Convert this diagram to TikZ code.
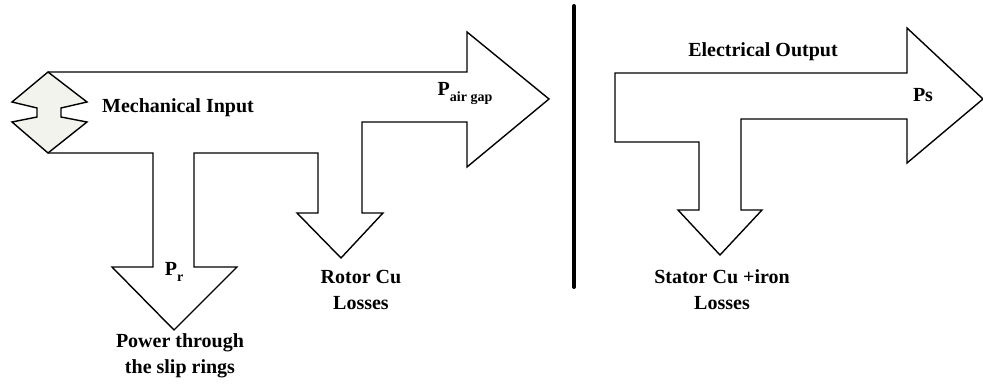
\documentclass[tikz,border=0pt]{standalone}
\usepackage{fontspec}
\setmainfont{Liberation Serif}
\usetikzlibrary{positioning}

\definecolor{plugfill}{RGB}{242,243,237}
\newcommand{\lowtext}[1]{\raisebox{-0.3em}{\fontsize{14}{14}\selectfont #1}}

\tikzset{
  flow/.style={draw, line width=1.4pt, line join=miter},
  lbl/.style={font=\fontsize{20}{26}\selectfont\bfseries, align=center, inner sep=0pt},
}

\begin{document}
\begin{tikzpicture}[x=1pt, y=-1pt]
    \useasboundingbox (0,0) rectangle (983,385);

    % Rotor side: input band, splits to slip rings, rotor losses and air gap
    \draw [flow] (48,72) -- (467,72) -- (467,32) -- (549,99) -- (467,167) -- (467,122)
        -- (362,122) -- (362,213) -- (383,213) -- (341,258) -- (297,213) -- (318,213)
        -- (318,153) -- (194,153) -- (194,267) -- (237,267) -- (174,330) -- (112,267)
        -- (153,267) -- (153,153) -- (48,153);

    % Shaft coupling (input end)
    \draw [flow, fill=plugfill] (48,72) -- (87,102) -- (61,108) -- (61,117) -- (87,122)
        -- (48,153) -- (12,122) -- (37,117) -- (37,108) -- (12,102) -- cycle;

    % Separator
    \draw [line width=4pt, line cap=round] (574,6) -- (574,287);

    % Stator side: electrical output and stator losses
    \draw [flow] (615,73) -- (907,73) -- (907,28) -- (983,99) -- (907,163) -- (907,119)
        -- (741,119) -- (741,210) -- (762,210) -- (720,255) -- (678,210) -- (699,210)
        -- (699,142) -- (615,142) -- cycle;

    % Labels
    \node [lbl] (mech) at (178,108) {Mechanical Input};
    \node [lbl] (pgap) at (465,93) {P\lowtext{air gap}};
    \node [lbl] (pr) at (174,272) {P\lowtext{r}};
    \node [lbl] (slip) at (180,356) {Power through\\the slip rings};
    \node [lbl] (rotor) at (361,290) {Rotor Cu\\Losses};
    \node [lbl] (elec) at (763,52) {Electrical Output};
    \node [lbl] (ps) at (923,95) {Ps};
    \node [lbl] (stator) at (722,290) {Stator Cu +iron\\Losses};
\end{tikzpicture}
\end{document}
